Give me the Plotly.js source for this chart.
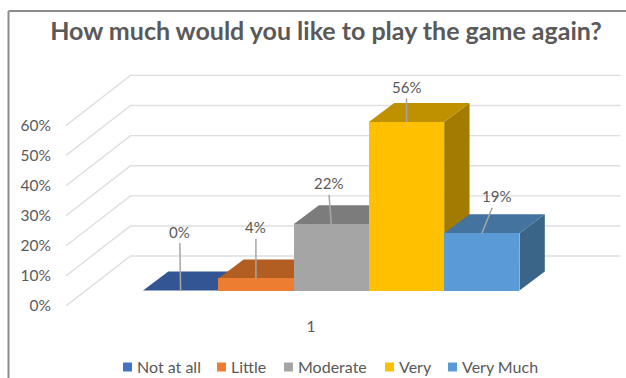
<!DOCTYPE html>
<html>
<head>
<meta charset="utf-8">
<script src="https://cdn.plot.ly/plotly-3.0.1.min.js"></script>
<style>html,body{margin:0;padding:0;background:#fff}#chart{width:626px;height:378px}</style>
</head>
<body>
<div id="chart"></div>
<script>
// Survey answers, in percent
const categories = ['Not at all', 'Little', 'Moderate', 'Very', 'Very Much'];
const values = [0, 4, 22, 56, 19];
const axisTicks = [0, 10, 20, 30, 40, 50, 60];
const groupLabel = '1';

// Face colours per series
const frontColors = ['#4472C4', '#ED7D31', '#A5A5A5', '#FFC000', '#5B9BD5'];
const topColors = ['#335593', '#B25E22', '#7C7C7C', '#BF9000', '#44739F'];
const sideColors = ['#2C4A80', '#9A511D', '#6B6B6B', '#A37B00', '#3A6589'];

// Oblique 3D frame, expressed in axis units
const floorLeft = -3.254, floorRight = 3.253;
const wallDX = 0.857, wallDY = 16.6;     // depth of the floor
const barOffsetX = -1.731, barOffsetY = 5.15; // where the bars sit on the floor
const barDX = 0.336, barDY = 6.3;        // depth of a bar
const halfBar = 0.5;

const traces = [];

// Gridlines running along the left wall and the back wall
axisTicks.forEach(t => {
  traces.push({
    x: [floorLeft, floorLeft + wallDX, floorRight + wallDX],
    y: [t, t + wallDY, t + wallDY],
    xaxis: 'x', yaxis: 'y', mode: 'lines', showlegend: false, hoverinfo: 'skip',
    cliponaxis: false,
    line: {color: '#DEDEDE', width: 1.4}
  });
});

// Top and side faces of every bar, left to right
values.forEach((v, i) => {
  const l = i + barOffsetX - halfBar, r = i + barOffsetX + halfBar;
  const b = barOffsetY, t = barOffsetY + v;
  traces.push({
    x: [r, r + barDX, r + barDX, r, r], y: [b, b + barDY, t + barDY, t, b],
    xaxis: 'x', yaxis: 'y', mode: 'lines', fill: 'toself', fillcolor: sideColors[i],
    line: {width: 0}, showlegend: false, hoverinfo: 'skip'
  });
  traces.push({
    x: [l, r, r + barDX, l + barDX, l], y: [t, t, t + barDY, t + barDY, t],
    xaxis: 'x', yaxis: 'y', mode: 'lines', fill: 'toself', fillcolor: topColors[i],
    line: {width: 0}, showlegend: false, hoverinfo: 'skip'
  });
});

// Front faces, on an overlaid pair of axes shifted to the bars' floor position
categories.forEach((name, i) => {
  traces.push({
    type: 'bar', name: name, x: [i], y: [values[i]], width: 1,
    xaxis: 'x2', yaxis: 'y2', marker: {color: frontColors[i]},
    hovertemplate: name + ': %{y}%<extra></extra>'
  });
});

// Value labels and their leader lines
const labelOffsets = [[-1, -59], [0, -51], [-3, -41], [0, -35], [15, -37]];
const annotations = values.map((v, i) => ({
  xref: 'x2', yref: 'y2', x: i, y: v, text: v + '%',
  showarrow: true, arrowhead: 0, arrowwidth: 1.5, arrowcolor: '#A6A6A6',
  ax: labelOffsets[i][0], ay: labelOffsets[i][1], borderpad: 2,
  font: {family: 'Lato, sans-serif', size: 15, color: '#595959'}
}));

const layout = {
  width: 626, height: 378,
  margin: {l: 66, r: 5, t: 70, b: 72, autoexpand: false},
  paper_bgcolor: '#fff', plot_bgcolor: 'rgba(0,0,0,0)',
  font: {family: 'Lato, sans-serif', size: 15.5, color: '#595959'},
  title: {
    text: '<b>How much would you like to play the game again?</b>',
    font: {family: 'Lato, sans-serif', size: 25, color: '#595959'},
    x: 326 / 626, xanchor: 'center', y: 0.918, yanchor: 'middle'
  },
  barmode: 'overlay', bargap: 0,
  xaxis: {
    range: [-3.254, 4.117], tickmode: 'array', tickvals: [0], ticktext: [groupLabel],
    showgrid: false, zeroline: false, showline: false,
    ticks: 'outside', ticklen: 6, tickcolor: 'rgba(0,0,0,0)', fixedrange: true
  },
  yaxis: {
    range: [0, 78.4], tickmode: 'array', tickvals: axisTicks,
    ticktext: axisTicks.map(t => t + '%'),
    showgrid: false, zeroline: false, showline: false,
    ticks: 'outside', ticklen: 11, tickcolor: 'rgba(0,0,0,0)', fixedrange: true
  },
  xaxis2: {range: [-1.522, 5.848], overlaying: 'x', visible: false, fixedrange: true},
  yaxis2: {range: [-5.15, 73.25], overlaying: 'y', visible: false, fixedrange: true},
  legend: {
    orientation: 'h', x: 0, xanchor: 'left', y: -0.2, yanchor: 'top',
    entrywidth: 100, entrywidthmode: 'pixels', traceorder: 'normal',
    font: {family: 'Lato, sans-serif', size: 16, color: '#595959'}
  },
  annotations: annotations,
  shapes: [
    // Outer frame: top and left edges only
    {type: 'line', xref: 'paper', yref: 'paper',
      x0: (8.5 - 66) / 555, x1: (626 - 66) / 555, y0: (306 - 11) / 236, y1: (306 - 11) / 236,
      line: {color: '#666666', width: 1.5}},
    {type: 'line', xref: 'paper', yref: 'paper',
      x0: (8.5 - 66) / 555, x1: (8.5 - 66) / 555, y0: (306 - 11) / 236, y1: (306 - 378) / 236,
      line: {color: '#8C8C8C', width: 2}}
  ]
};

// Tighten the legend entries: smaller swatches, closer to their text
const legendStops = [123, 217, 284, 385, 448];
const legendMiddle = 367;
function tightenLegend(gd) {
  const clip = gd.querySelector('.legend .scrollbox');
  if (clip) clip.removeAttribute('clip-path');
  gd.querySelectorAll('.legend .traces').forEach((g, i) => {
    const path = g.querySelector('.legendpoints path');
    if (path) path.setAttribute('d', 'M4.5,4.5H-4.5V-4.5H4.5Z');
    const pts = g.querySelector('.legendpoints');
    const txt = g.querySelector('.legendtext');
    const m = /translate\(([-\d.]+)[ ,]*([-\d.]*)\)/.exec(g.getAttribute('transform') || '');
    const gx = m ? +m[1] : 0, gy = m && m[2] ? +m[2] : 0;
    const r = pts.getBoundingClientRect();
    const midY = r.top + r.height / 2;
    g.setAttribute('transform', 'translate(' + (gx + legendStops[i] - r.left) + ',' + (gy + legendMiddle - midY) + ')');
    txt.setAttribute('x', +txt.getAttribute('x') - 10.5);
  });
}

Plotly.newPlot('chart', traces, layout, {displayModeBar: false, responsive: false})
  .then(gd => tightenLegend(gd));
</script>
</body>
</html>
